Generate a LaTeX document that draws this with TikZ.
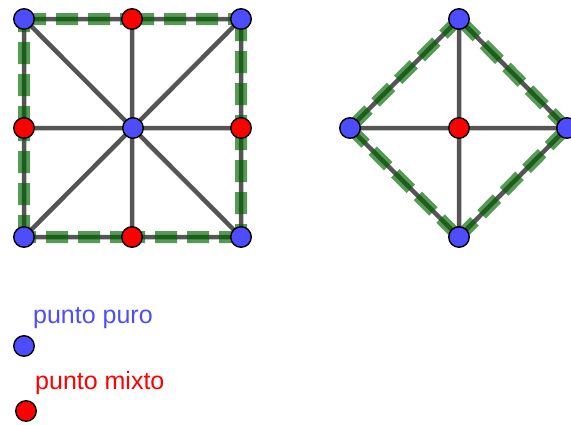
\documentclass[tikz,border=0pt]{standalone}
\usepackage{fontspec}
\setmainfont{Liberation Sans}
\usepackage{tikz}
\usetikzlibrary{backgrounds}
\definecolor{cPuro}{RGB}{77,77,255}
\definecolor{cMixto}{RGB}{255,0,0}
\definecolor{cSeg}{RGB}{85,85,85}
\definecolor{cBorde}{RGB}{0,100,0}

\begin{document}
\begin{tikzpicture}[x=1pt, y=-1pt,
                    puro/.style={circle, fill=cPuro, draw=black, line width=1.4pt, minimum size=20.5pt, inner sep=0pt},
                    mixto/.style={circle, fill=cMixto, draw=black, line width=1.4pt, minimum size=20.5pt, inner sep=0pt},
                    seg/.style={draw=cSeg, line width=4.5pt},
                    borde/.style={draw=cBorde, draw opacity=0.66, line width=12pt, dash pattern=on 22pt off 10pt},
                    leyenda/.style={anchor=base west, inner sep=0pt, font=\fontsize{25}{30}\selectfont}]
    \useasboundingbox (0,0) rectangle (571,424);

    % Node Placements
    \node[puro]  (A1) at (24,19)  {};
    \node[mixto] (A2) at (132,19) {};
    \node[puro]  (A3) at (241,19) {};
    \node[mixto] (B1) at (24,128) {};
    \node[puro]  (B2) at (133,128) {};
    \node[mixto] (B3) at (241,128) {};
    \node[puro]  (C1) at (24,237) {};
    \node[mixto] (C2) at (132,237) {};
    \node[puro]  (C3) at (241,237) {};

    \node[puro]  (R1) at (459,19)  {};
    \node[puro]  (R2) at (350,128) {};
    \node[mixto] (R3) at (459,128) {};
    \node[puro]  (R4) at (567,128) {};
    \node[puro]  (R5) at (459,237) {};

    % Legend
    \node[leyenda, text=cPuro]  (Lpuro)  at (33,323)  {punto puro};
    \node[puro]                 (Dpuro)  at (24,346)  {};
    \node[leyenda, text=cMixto] (Lmixto) at (35,389)  {punto mixto};
    \node[mixto]                (Dmixto) at (26,411)  {};

    \begin{scope}[on background layer]
    % Graph Path Operations
    \path[seg]
    (A1.center) -- (A3.center) -- (C3.center) -- (C1.center) -- cycle
    (A1.center) -- (C3.center)
    (A3.center) -- (C1.center)
    (A2.center) -- (C2.center)
    (B1.center) -- (B3.center)
    (R1.center) -- (R2.center) -- (R5.center) -- (R4.center) -- cycle
    (R1.center) -- (R5.center)
    (R2.center) -- (R4.center);

    \path[borde]
    (A1.center) -- (A2.center) (A2.center) -- (A3.center)
    (A3.center) -- (B3.center) (B3.center) -- (C3.center)
    (C3.center) -- (C2.center) (C2.center) -- (C1.center)
    (C1.center) -- (B1.center) (B1.center) -- (A1.center)
    (R1.center) -- (R2.center) (R2.center) -- (R5.center)
    (R5.center) -- (R4.center) (R4.center) -- (R1.center);
    \end{scope}
\end{tikzpicture}
\end{document}
